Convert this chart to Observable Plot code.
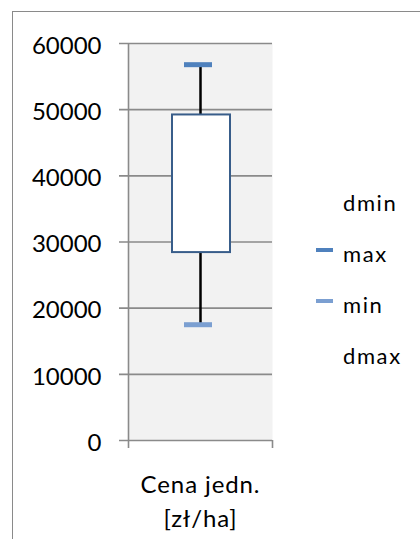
<!DOCTYPE html>
<html>
<head>
<meta charset="utf-8">
<script src="https://cdn.jsdelivr.net/npm/d3@7"></script>
<script src="https://cdn.jsdelivr.net/npm/@observablehq/plot@0.6"></script>
<style>
  html, body { margin: 0; padding: 0; background: #fff; }
  #wrap { position: relative; width: 420px; height: 539px; overflow: hidden; font-family: Lato, sans-serif; }
  #border { position: absolute; left: 12px; top: 11px; width: 600px; height: 700px; border: 1.5px solid #8a8a8a; box-sizing: border-box; }
  #chart { position: absolute; left: 0; top: 0; }
  #chart svg g[aria-label="text"] text { letter-spacing: 0.9px; }
  .leg { position: absolute; left: 316px; width: 100px; height: 51px; line-height: 51px; font-size: 22px; letter-spacing: 1.6px; color: #000; }
  .leg span.txt { position: absolute; left: 27px; top: 0; }
  .leg span.mk { position: absolute; left: 0; top: 20px; width: 17px; height: 3.5px; }
</style>
</head>
<body>
<div id="wrap">
  <div id="border"></div>
  <div id="chart"></div>
</div>
<script>
// ---- data ----
const categories = ["Cena jedn.\n[zł/ha]"];
const q1Values = [28400];
const q3Values = [49200];
const minValues = [17500];
const maxValues = [56800];
const yTicks = [0, 10000, 20000, 30000, 40000, 50000, 60000];
const legendNames = ["dmin", "max", "min", "dmax"];
const legendColors = [null, "#4f81bd", "#7b9fd1", null];

const boxes = categories.map((c, i) => ({
  cat: c, q1: q1Values[i], q3: q3Values[i], min: minValues[i], max: maxValues[i]
}));

const gridColor = "#8a8a8a";

const chart = Plot.plot({
  width: 420,
  height: 539,
  marginLeft: 128,
  marginRight: 148,
  marginTop: 43,
  marginBottom: 99,
  style: { background: "transparent", fontFamily: "Lato, sans-serif", color: "#000" },
  x: { domain: categories, padding: 0, axis: null },
  y: { domain: [0, 60000], axis: null },
  marks: [
    Plot.frame({ fill: "#f2f2f2", stroke: null }),
    Plot.ruleY(yTicks, { stroke: gridColor, strokeWidth: 1.6, insetLeft: -9 }),
    Plot.ruleX(categories, { x: d => d, y1: 60000, y2: 0, dx: -72, insetBottom: -8, stroke: gridColor, strokeWidth: 1.6 }),
    Plot.ruleX(categories, { x: d => d, y1: 0, y2: 0, dx: 72, insetBottom: -8, stroke: gridColor, strokeWidth: 1.6 }),
    Plot.axisY(yTicks, { tickSize: 0, tickPadding: 27, fontSize: 24, dy: 2.5, label: null, tickFormat: d => String(d) }),
    Plot.ruleX(boxes, { x: "cat", y1: "max", y2: "q3", stroke: "#000", strokeWidth: 2.5 }),
    Plot.ruleX(boxes, { x: "cat", y1: "q1", y2: "min", stroke: "#000", strokeWidth: 2.5 }),
    Plot.barY(boxes, { x: "cat", y1: "q1", y2: "q3", fill: "#fff", stroke: "#385d8a", strokeWidth: 2, insetLeft: 44, insetRight: 42 }),
    Plot.tickY(boxes, { x: "cat", y: "max", stroke: "#4f81bd", strokeWidth: 5, insetLeft: 56, insetRight: 60 }),
    Plot.tickY(boxes, { x: "cat", y: "min", stroke: "#7b9fd1", strokeWidth: 5, insetLeft: 56, insetRight: 60 }),
    Plot.text(categories, { x: d => d, text: d => d, frameAnchor: "bottom", lineAnchor: "top", dy: 29, fontSize: 24, lineHeight: 1.4, fill: "#000" })
  ]
});
document.getElementById("chart").appendChild(chart);

// legend (right side)
const wrap = document.getElementById("wrap");
legendNames.forEach((name, i) => {
  const item = document.createElement("div");
  item.className = "leg";
  item.style.top = (177 + i * 51) + "px";
  if (legendColors[i]) {
    const mk = document.createElement("span");
    mk.className = "mk";
    mk.style.background = legendColors[i];
    item.appendChild(mk);
  }
  const t = document.createElement("span");
  t.className = "txt";
  t.textContent = name;
  item.appendChild(t);
  wrap.appendChild(item);
});
</script>
</body>
</html>
